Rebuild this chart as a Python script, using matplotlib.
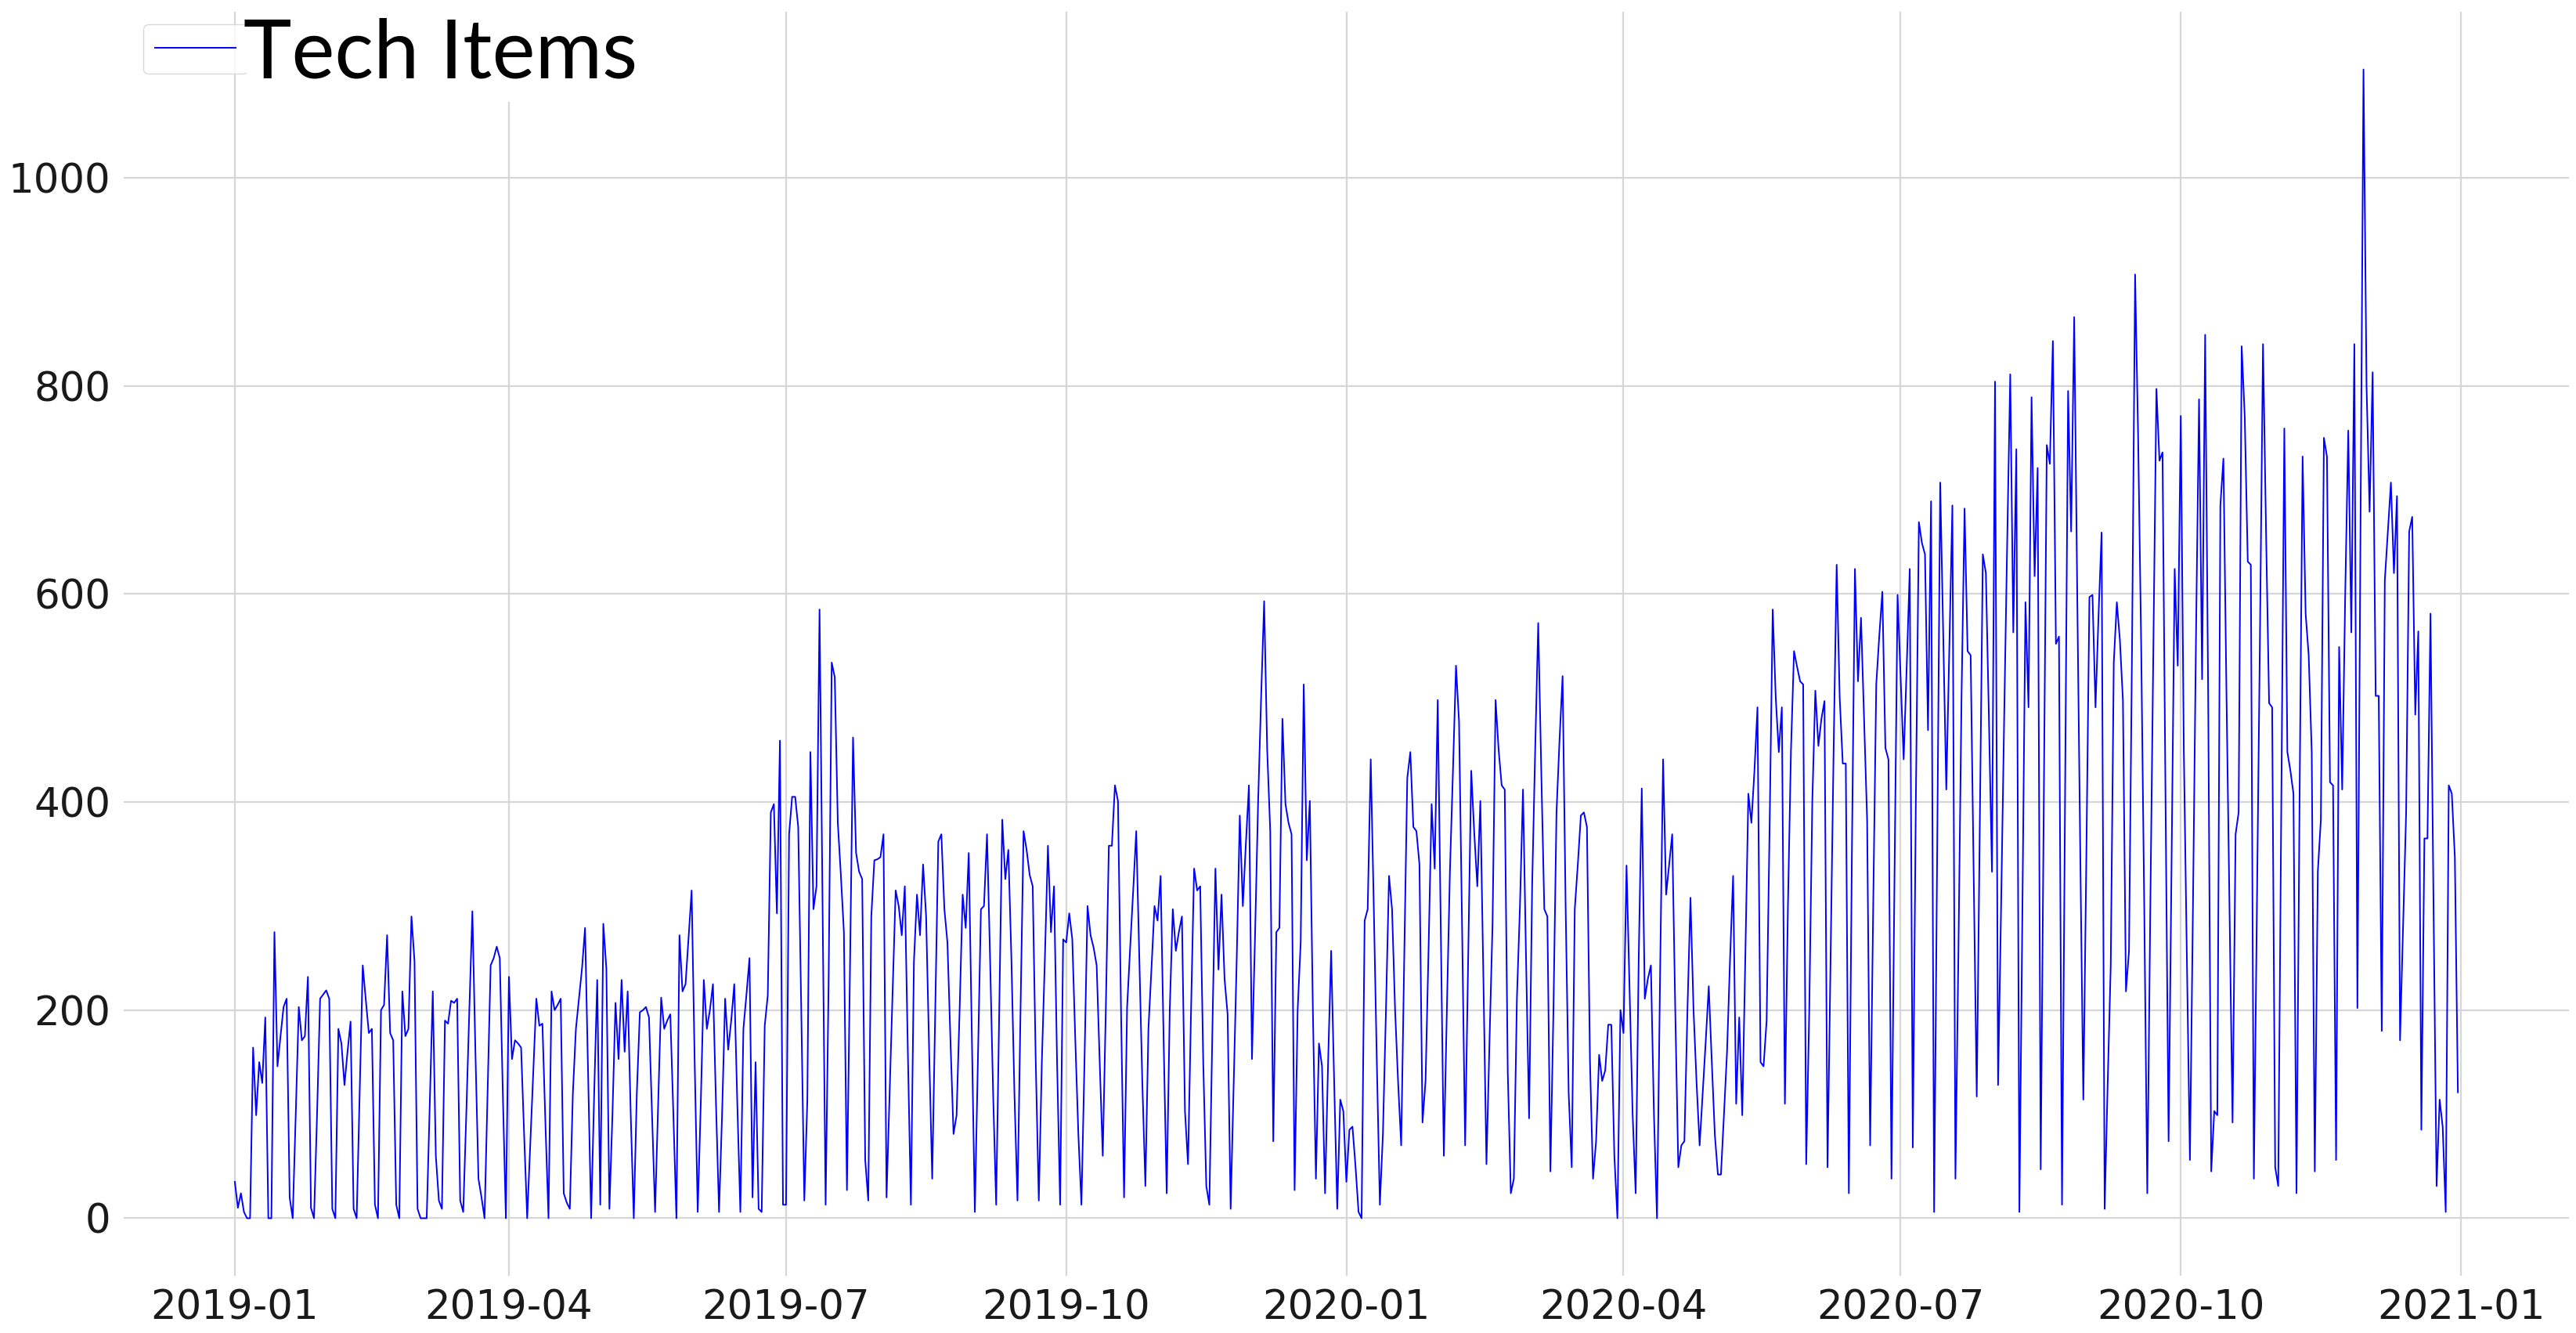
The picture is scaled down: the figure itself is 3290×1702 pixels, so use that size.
"""
Tech Items daily sales, 2019-01-01 .. 2020-12-31
"""

import numpy as np
import pandas as pd
import matplotlib
matplotlib.use('Agg')
import matplotlib.pyplot as plt
import matplotlib.dates as mdates
from matplotlib.patches import Rectangle

# ===== data (one value per day) =====
START_DATE = '2019-01-01'
SERIES_LABEL = 'Tech Items'

# 2019-01-01 .. 2019-03-03
tech_p01 = [35, 10, 24, 6, 0, 0,
            164, 99, 150, 130, 193, 0, 0,
            275, 146, 175, 203, 211, 20, 0,
            100, 203, 171, 175, 232, 10, 0,
            100, 211, 215, 219, 211, 9, 0,
            182, 168, 128, 160, 189, 9, 0,
            120, 243, 210, 178, 182, 13, 0,
            200, 205, 272, 178, 171, 13, 0,
            218, 175, 182, 290, 247, 9, 0]
# 2019-03-04 .. 2019-05-02
tech_p02 = [0, 0, 110, 218, 60, 17, 9,
            190, 187, 209, 207, 211, 17, 6,
            100, 200, 295, 160, 38, 20, 0,
            120, 243, 250, 261, 250, 120, 0,
            232, 153, 171, 168, 164, 80, 0,
            70, 140, 211, 185, 187, 90, 0,
            218, 200, 205, 211, 24, 15, 9,
            120, 182, 211, 240, 279, 140, 0,
            120, 229, 13, 283]
# 2019-05-03 .. 2019-07-03
tech_p03 = [240, 9, 100, 207, 153, 229, 160,
            218, 100, 0, 120, 198, 200, 203,
            193, 100, 6, 110, 212, 182, 190,
            196, 100, 0, 272, 218, 225, 270,
            315, 150, 6, 110, 229, 182, 200,
            225, 110, 6, 100, 211, 162, 190,
            225, 110, 6, 182, 215, 250, 20,
            150, 9, 6, 185, 214, 390, 398,
            293, 459, 13, 13, 369, 405]
# 2019-07-04 .. 2019-09-03
tech_p04 = [405, 376, 200, 17, 114, 448, 297,
            319, 585, 300, 13, 232, 534, 520,
            380, 330, 275, 27, 240, 462, 351,
            333, 326, 56, 17, 290, 344, 345,
            347, 369, 20, 120, 218, 315, 300,
            272, 319, 160, 13, 247, 311, 272,
            340, 290, 160, 38, 200, 362, 369,
            297, 265, 170, 81, 99, 200, 311,
            279, 351, 180, 6, 150, 297]
# 2019-09-04 .. 2019-11-04
tech_p05 = [300, 369, 250, 120, 13, 200, 383,
            326, 354, 250, 120, 17, 200, 372,
            354, 330, 319, 150, 17, 150, 250,
            358, 275, 319, 150, 13, 268, 265,
            293, 268, 170, 80, 13, 150, 300,
            272, 260, 243, 150, 60, 200, 358,
            358, 416, 401, 200, 20, 203, 260,
            315, 372, 250, 130, 31, 182, 240,
            300, 286, 329, 170, 24, 200]
# 2019-11-05 .. 2020-01-05
tech_p06 = [297, 257, 275, 290, 103, 52, 200,
            336, 315, 319, 150, 31, 13, 180,
            336, 239, 311, 230, 196, 9, 130,
            250, 387, 300, 360, 416, 153, 270,
            398, 500, 593, 450, 372, 74, 275,
            279, 480, 398, 380, 369, 27, 200,
            265, 513, 344, 401, 200, 38, 168,
            146, 24, 150, 257, 130, 9, 114,
            103, 35, 85, 88, 50, 6]
# 2020-01-06 .. 2020-03-06
tech_p07 = [0, 286, 297, 441, 300, 150, 13,
            81, 200, 329, 297, 200, 130, 70,
            250, 423, 448, 376, 372, 340, 92,
            132, 260, 398, 336, 498, 280, 60,
            200, 333, 430, 531, 477, 280, 70,
            250, 430, 370, 319, 401, 230, 52,
            170, 283, 498, 450, 416, 412, 140,
            24, 38, 211, 300, 412, 250, 96,
            319, 450, 572, 430, 297]
# 2020-03-07 .. 2020-05-07
tech_p08 = [290, 45, 200, 390, 460, 521, 300,
            120, 49, 297, 340, 387, 390, 376,
            150, 38, 74, 157, 132, 142, 186,
            186, 60, 0, 200, 178, 339, 220,
            100, 24, 250, 413, 211, 230, 243,
            100, 0, 230, 441, 311, 340, 369,
            200, 49, 70, 74, 200, 308, 200,
            130, 70, 120, 170, 223, 150, 80,
            42, 42, 100, 160, 250, 329]
# 2020-05-08 .. 2020-07-07
tech_p09 = [110, 193, 99, 250, 408, 380, 430,
            491, 150, 146, 190, 380, 585, 500,
            448, 491, 110, 300, 450, 545, 530,
            516, 513, 52, 200, 400, 507, 454,
            480, 497, 49, 250, 450, 628, 500,
            437, 437, 24, 350, 624, 516, 577,
            480, 383, 70, 300, 513, 560, 602,
            452, 441, 38, 330, 599, 520, 441,
            530, 624, 68, 400, 669]
# 2020-07-08 .. 2020-09-07
tech_p10 = [649, 638, 469, 689, 6, 350, 707,
            560, 412, 550, 685, 38, 260, 500,
            682, 545, 541, 330, 117, 380, 638,
            620, 480, 333, 804, 128, 300, 480,
            650, 811, 563, 739, 6, 300, 592,
            491, 789, 617, 721, 47, 400, 743,
            725, 843, 552, 559, 13, 400, 795,
            660, 866, 600, 350, 114, 350, 597,
            599, 491, 580, 659, 9, 130]
# 2020-09-08 .. 2020-11-07
tech_p11 = [243, 534, 592, 556, 498, 218, 257,
            550, 907, 750, 550, 300, 24, 300,
            550, 797, 728, 736, 400, 74, 350,
            624, 531, 771, 450, 250, 56, 300,
            560, 787, 518, 849, 500, 45, 103,
            99, 685, 730, 505, 300, 92, 369,
            390, 838, 771, 631, 628, 38, 300,
            560, 840, 660, 495, 491, 49, 31,
            400, 759, 448, 430, 408]
# 2020-11-08 .. 2020-12-31
tech_p12 = [24, 400, 732, 581, 541, 448, 45,
            333, 383, 750, 732, 419, 416, 56,
            549, 412, 600, 757, 563, 840, 202,
            650, 1104, 800, 679, 813, 502, 502,
            180, 613, 660, 707, 620, 694, 171,
            280, 390, 660, 674, 484, 564, 85,
            365, 365, 581, 300, 31, 114, 88,
            6, 416, 408, 347, 121]

Y_TICKS = [0, 200, 400, 600, 800, 1000]

values = np.array(tech_p01 + tech_p02 + tech_p03 + tech_p04 + tech_p05 + tech_p06 +
                  tech_p07 + tech_p08 + tech_p09 + tech_p10 + tech_p11 + tech_p12,
                  dtype=float)
dates = pd.date_range(START_DATE, periods=len(values), freq='D')
print(f"points: {len(values)}, {dates[0].date()} .. {dates[-1].date()}")

# ===== plot =====
plt.rcParams['font.family'] = ['DejaVu Sans']

W, H = 3291, 1702
fig = plt.figure(figsize=(W / 100, H / 100), dpi=100)
ax = fig.add_axes([0.048, 0.043, 0.949, 0.948])

line, = ax.plot(dates, values, color='#0000ff', linewidth=1.4)

ax.set_yticks(Y_TICKS)
ax.xaxis.set_major_locator(mdates.MonthLocator(bymonth=[1, 4, 7, 10]))
ax.xaxis.set_major_formatter(mdates.DateFormatter('%Y-%m'))

ax.grid(True, color='#d6d6d6', linewidth=1.6)
ax.set_axisbelow(True)
for s in ax.spines.values():
    s.set_visible(False)
ax.tick_params(axis='both', length=0, labelsize=37, pad=12, colors='#1a1a1a')

# legend box holds only the handle; the label is drawn large beside it
leg = ax.legend(handles=[line], labels=[''], loc='upper left',
                bbox_to_anchor=(0.008, 0.990), borderaxespad=0,
                fontsize=24, handlelength=3.1, handletextpad=0.0,
                borderpad=0.45, frameon=True)
leg.get_frame().set_edgecolor('#d0d0d0')
leg.get_frame().set_linewidth(1.0)

# white area behind the overflowing label (hides the grid there)
fig.patches.append(Rectangle((315 / W, 1 - 130 / H), 515 / W, 130 / H,
                             transform=fig.transFigure, facecolor='white',
                             edgecolor='none', zorder=1))
fig.text(311 / W, 1 - 99 / H, SERIES_LABEL, family='Lato', fontsize=75,
         ha='left', va='baseline', color='black', zorder=3)

fig.savefig('out.png', dpi=100)
